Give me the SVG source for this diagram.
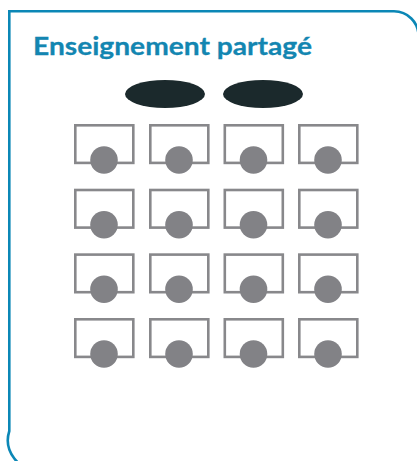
<svg xmlns="http://www.w3.org/2000/svg" width="417" height="461" viewBox="0 0 417 461">
<defs>
<style>
.frame{fill:none;stroke:#0b87b6;stroke-width:2.6}
.title{font-family:Lato,"Open Sans","Liberation Sans",sans-serif;font-weight:bold;font-size:25.5px;fill:#1386b1;stroke:#1386b1;stroke-width:0.3}
.teacher{fill:#1b292c}
.desk{fill:#fff;stroke:#88888b;stroke-width:2.6}
.seat{fill:#828286}
</style>
<g id="desk">
<rect class="desk" x="1.3" y="1.3" width="58" height="37.6"/>
<circle class="seat" cx="30" cy="36" r="13.8"/>
</g>
</defs>
<g id="frame">
<path class="frame" d="M9.3 11.3 H394 A24.5 24.5 0 0 1 418.5 35.8 V470 H39.3 A30 30 0 0 1 9.3 431 Z"/>
</g>
<text class="title" x="33" y="54.5" textLength="279" lengthAdjust="spacingAndGlyphs">Enseignement partagé</text>
<g id="teachers">
<ellipse id="teacher1" class="teacher" cx="165" cy="94" rx="40" ry="14"/>
<ellipse id="teacher2" class="teacher" cx="263" cy="94" rx="40" ry="14"/>
</g>
<g id="desks">
<use id="d11" href="#desk" x="74" y="124"/>
<use id="d12" href="#desk" x="149" y="124"/>
<use id="d13" href="#desk" x="223.5" y="124"/>
<use id="d14" href="#desk" x="298" y="124"/>
<use id="d21" href="#desk" x="74" y="188.7"/>
<use id="d22" href="#desk" x="149" y="188.7"/>
<use id="d23" href="#desk" x="223.5" y="188.7"/>
<use id="d24" href="#desk" x="298" y="188.7"/>
<use id="d31" href="#desk" x="74" y="253.3"/>
<use id="d32" href="#desk" x="149" y="253.3"/>
<use id="d33" href="#desk" x="223.5" y="253.3"/>
<use id="d34" href="#desk" x="298" y="253.3"/>
<use id="d41" href="#desk" x="74" y="318"/>
<use id="d42" href="#desk" x="149" y="318"/>
<use id="d43" href="#desk" x="223.5" y="318"/>
<use id="d44" href="#desk" x="298" y="318"/>
</g>
</svg>
